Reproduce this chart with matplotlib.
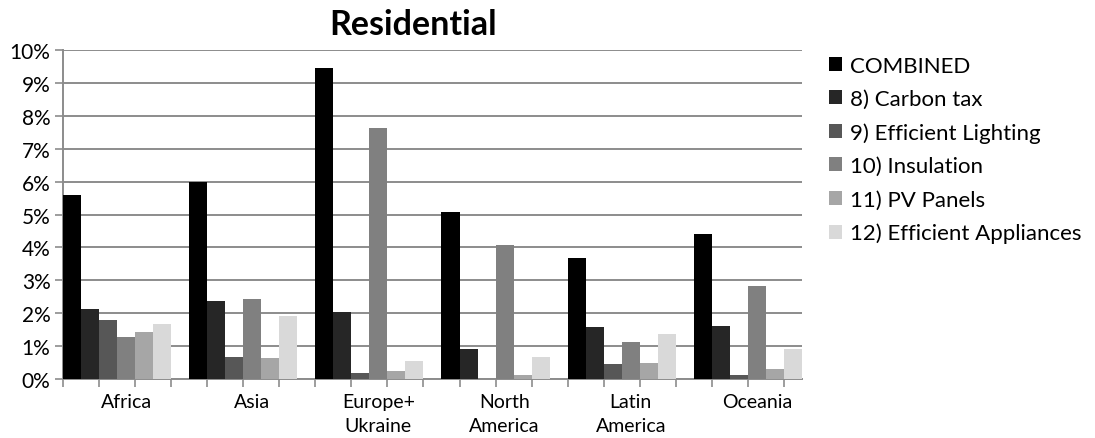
import numpy as np
import matplotlib
matplotlib.use("Agg")
import matplotlib.pyplot as plt
from matplotlib.ticker import MultipleLocator, PercentFormatter

plt.rcParams['font.family'] = ['Lato', 'DejaVu Sans']

regions = ['Africa', 'Asia', 'Europe+\nUkraine', 'North\nAmerica', 'Latin\nAmerica', 'Oceania']
series = ['COMBINED', '8) Carbon tax', '9) Efficient Lighting', '10) Insulation',
          '11) PV Panels', '12) Efficient Appliances']

combined = [5.60, 5.98, 9.44, 5.09, 3.69, 4.41]
carbon_tax = [2.14, 2.37, 2.05, 0.92, 1.57, 1.61]
lighting = [1.78, 0.67, 0.17, 0.0, 0.46, 0.11]
insulation = [1.28, 2.44, 7.62, 4.08, 1.12, 2.82]
pv_panels = [1.43, 0.65, 0.23, 0.11, 0.49, 0.29]
appliances = [1.68, 1.93, 0.54, 0.67, 1.37, 0.92]

colors = ['#000000', '#262626', '#575757', '#808080', '#a6a6a6', '#d9d9d9']

values = [combined, carbon_tax, lighting, insulation, pv_panels, appliances]

fig = plt.figure(figsize=(10.95, 4.39), dpi=100)
ax = fig.add_axes([0.0575, 0.1344, 0.6749, 0.7494])

stride = 7  # 6 bars + 1 gap
x = np.arange(len(regions)) * stride
for j, (name, vals) in enumerate(zip(series, values)):
    ax.bar(x + j + 0.5, vals, width=1.0, color=colors[j], label=name, zorder=3)

ax.set_xlim(0, len(regions) * stride - 1)
ax.set_ylim(0, 10)
ax.yaxis.set_major_locator(MultipleLocator(1))
ax.yaxis.set_major_formatter(PercentFormatter(decimals=0))
ax.grid(axis='y', color='#8c8c8c', linewidth=1.4, zorder=0)

ax.xaxis.set_major_locator(MultipleLocator(2))
ax.set_xticklabels([])
ax.set_xticks(x + 3.5, minor=True)
ax.set_xticklabels(regions, minor=True, fontsize=14, linespacing=1.5)
ax.tick_params(axis='x', which='minor', length=0, pad=10)
ax.tick_params(axis='x', which='major', length=6, width=1.2, color='#8c8c8c')
ax.tick_params(axis='y', length=6, width=1.2, color='#8c8c8c', labelsize=15, pad=3)

for s in ['top', 'right']:
    ax.spines[s].set_visible(False)
for s in ['left', 'bottom']:
    ax.spines[s].set_color('#8c8c8c')
    ax.spines[s].set_linewidth(1.4)

fig.text(0.377, 0.943, 'Residential', ha='center', va='center', fontsize=24.5, fontweight='bold')

ax.legend(loc='upper left', bbox_to_anchor=(0.757, 0.871), bbox_transform=fig.transFigure,
          frameon=False, fontsize=16, handlelength=0.6, handleheight=0.6,
          handletextpad=0.35, labelspacing=0.6, borderaxespad=0, borderpad=0)

fig.savefig('out.png', dpi=100, facecolor='white')
